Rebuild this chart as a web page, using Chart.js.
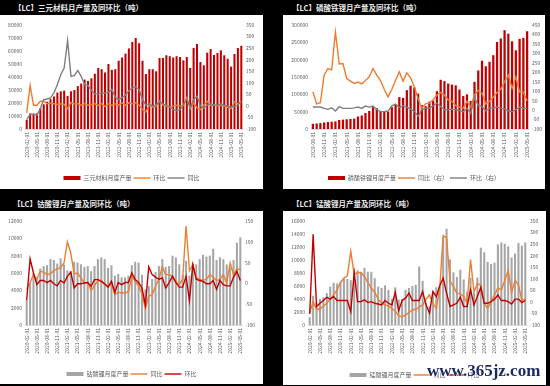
<!DOCTYPE html>
<html>
<head>
<meta charset="utf-8">
<script src="https://cdn.jsdelivr.net/npm/chart.js@4/dist/chart.umd.min.js"></script>
<style>
  html, body { margin: 0; padding: 0; background: #000; }
  body { width: 550px; height: 386px; position: relative; overflow: hidden; font-family: "Noto Sans CJK SC", sans-serif; }
  .title { position: absolute; color: #e8e8e8; font-size: 7.5px; font-weight: bold; line-height: 1; white-space: nowrap; }
  .box { position: absolute; background: #fff; overflow: hidden; }
  .box canvas { position: absolute; left: 0; top: 0; }
  .mark { position: absolute; left: 427px; top: 362px; font-family: "Liberation Serif", serif; font-weight: bold; font-size: 17px; line-height: 17px; color: #1b2a5e; text-shadow: 0 0 2px #fff, 0 0 2px #fff; white-space: nowrap; }
</style>
</head>
<body>
<div class="title" style="left:14px;top:4px">【LC】三元材料月产量及同环比（吨）</div>
<div class="title" style="left:292px;top:4px">【LC】磷酸铁锂月产量及同环比（吨）</div>
<div class="title" style="left:13px;top:200px">【LC】钴酸锂月产量及同环比（吨）</div>
<div class="title" style="left:292px;top:200px">【LC】锰酸锂月产量及同环比（吨）</div>

<div class="box" style="left:0px;top:15px;width:263px;height:174px"><canvas id="ncm"></canvas></div>
<div class="box" style="left:283px;top:15px;width:262px;height:174px"><canvas id="lfp"></canvas></div>
<div class="box" style="left:0px;top:211px;width:263px;height:173px"><canvas id="lco"></canvas></div>
<div class="box" style="left:283px;top:211px;width:263px;height:174px"><canvas id="lmo"></canvas></div>

<div class="mark">www.365jz.com</div>

<script>
// month labels, yyyy-mm-01
function monthsFrom(year, month, count) {
  const out = [];
  for (let i = 0; i < count; i++) {
    const d = new Date(Date.UTC(year, month - 1 + i, 1));
    out.push(d.toISOString().slice(0, 10));
  }
  return out;
}

const months64 = monthsFrom(2020, 2, 64); // 2020-02 .. 2025-05
const months58 = monthsFrom(2020, 8, 58); // 2020-08 .. 2025-05

// 三元材料
const ncmOutput = [7000, 12000, 12000, 12000, 16000, 19000, 21000, 23000, 25000, 28000,
  29000, 29500, 25500, 29000, 30000, 33000, 35000, 38000, 37000, 39000,
  42500, 47000, 46000, 43500, 50000, 45500, 46000, 52500, 55000, 58000,
  62000, 67000, 70000, 66000, 52500, 42300, 46000, 46000, 44400, 54600,
  54600, 56700, 56000, 55000, 56000, 55400, 52800, 55400, 47000, 62300,
  65400, 51500, 49000, 58700, 61500, 57000, 58500, 60500, 56700, 54000,
  48000, 57700, 62300, 64000];
const ncmMoM = [-30, 88, 3, 3, 20, 20, 9, 12, 9, 6, 9, 6, -12, 14, 9, 9, 3, 9, 3, 6,
  9, 3, 9, -3, 9, 3, 9, 3, 12, 3, 13, 9, 13, 3, -16, -26, 3, -6, -1, 20,
  3, -1, -6, -1, 3, -1, 3, 35, -12, 13, -9, -16, 3, 20, 3, 3, -1, 3, -1, -6,
  -12, 17, 9, 17];
const ncmYoY = [-59, -37, -37, -40, -12, 27, 30, 35, 56, 92, 135, 164, 282, 128, 132, 153, 128, 92, 89, 66,
  52, 52, 56, 56, 59, 71, 37, 27, 37, 46, 66, 78, 82, 71, 27, 3, 9, -1, 3, 20,
  9, 3, -6, -16, -20, -16, 3, 32, -9, 27, 42, -1, -9, 3, 9, 3, 3, 9, 3, -1,
  -6, -1, 3, 20];

// 磷酸铁锂
const lfpOutput = [15000, 16000, 17000, 19000, 20000, 21000, 22000, 26000, 27000, 28000,
  29000, 30000, 36000, 39000, 46000, 52000, 63000, 60000, 52000, 50000,
  50000, 63000, 72000, 92000, 90000, 112000, 125000, 120000, 102000, 69000,
  66000, 79000, 82000, 109000, 142000, 138000, 131000, 128000, 126000, 114000,
  95000, 100000, 81000, 136000, 169000, 197000, 181000, 194000, 213000, 251000,
  261000, 285000, 275000, 253000, 227000, 260000, 263000, 282000];
const lfpYoY = [97, 33, 39, 185, 220, 213, 413, 244, 246, 167, 153, 141, 148, 139, 156, 176, 220, 185, 156, 109,
  70, 109, 158, 202, 153, 197, 170, 123, 60, 10, 33, 37, 54, 80, 93, 80, 54, 46, 23, 16,
  10, 46, 16, 80, 104, 90, 33, 46, 69, 93, 110, 150, 185, 115, 175, 95, 95, 48];
const lfpMoM = [16, 16, 16, 9, 4, 12, -5, 18, 9, 9, 9, 12, 16, 9, 21, 16, 21, 2, -8, -8,
  -5, 23, 32, 14, 23, 16, 5, -7, -33, 2, 10, 10, 23, 37, 19, 2, 2, 5, 2, -2,
  -9, 10, -16, 67, 23, 19, -4, 10, 10, 16, 10, 5, -4, -9, 2, 16, 10, 10];

// 钴酸锂
const lcoOutput = [2900, 4900, 6000, 5400, 6500, 6800, 6900, 7600, 7500, 7100,
  7700, 7000, 6300, 6200, 7300, 7200, 7000, 6700, 6800, 6200,
  6800, 7600, 7800, 7600, 6600, 6900, 5700, 5900, 5500, 5500,
  5700, 6900, 7300, 7200, 5800, 4100, 4500, 5300, 6100, 6800,
  7600, 6700, 6800, 8000, 7800, 7000, 5800, 7400, 5700, 7100,
  7000, 7600, 8100, 7900, 8000, 8800, 7500, 7800, 7600, 7000,
  6600, 7500, 9500, 10100];
const lcoYoY = [-14, 2, 21, 10, 29, 27, 21, 23, 31, 35, 37, 49, 100, 73, 23, 25, 13, 1, 2, -17,
  -6, 7, 7, -3, -7, -1, -27, -21, -23, -23, -20, 17, 5, -6, -25, -60, -31, -27, -7, 10,
  40, 21, 21, 17, 5, -3, 10, 138, 31, 45, 13, 10, 7, 10, 21, 15, 7, 9, 21, 1,
  49, 21, 35, 33];
const lcoMoM = [-40, 59, 25, -3, 7, 7, 2, 7, -1, -6, 7, 1, 17, 27, -11, -1, -1, 1, 2, -7,
  9, 9, 5, -1, -9, 5, -22, 2, -3, 2, 2, 25, 9, 2, -11, -52, 40, 21, 15, 10,
  13, -11, 2, 17, 2, -9, -9, 17, -41, 45, 10, 7, 5, -1, -1, 7, -14, 7, -3, -6,
  -6, 15, 29, 7];

// 锰酸锂
const lmoOutput = [1200, 4500, 3400, 4000, 4300, 4900, 5900, 6500, 6400, 6600,
  7100, 7100, 6900, 8600, 8400, 8200, 8800, 8200, 8200, 7200,
  5900, 5700, 6100, 5400, 4000, 5800, 3900, 4000, 5400, 5700,
  6000, 6200, 9000, 6800, 3400, 2900, 5000, 5800, 6000, 13500,
  14800, 10100, 8100, 7400, 8500, 7000, 5100, 7300, 5000, 7300,
  11900, 11200, 9700, 9400, 9600, 12400, 12700, 12500, 12100, 10400,
  11000, 12600, 12200, 12700];
const lmoYoY = [-46, 1, -32, -32, -17, -6, 12, 30, 52, 84, 103, 113, 219, 118, 128, 125, 110, 84, 60, 41,
  12, -6, -13, -17, -28, -40, -61, -64, -57, -46, -35, -32, -23, -13, 12, 30, -6, -28, 60, 287,
  277, 89, 67, 38, 35, 23, -6, 183, 45, 78, 74, -6, -28, 1, 30, 60, 52, 93, 136, 41,
  93, 74, 6, 12];
const lmoMoM = [-52, 292, -20, -6, 6, 20, 12, 23, 6, 6, 6, 6, -42, 125, 1, 1, 9, -3, 1, -6,
  -9, -13, 6, -6, -13, 41, -38, 6, 16, 38, 6, 6, 6, 45, -13, -49, 45, 23, 70, 103,
  38, -20, -13, -6, 20, -20, -20, 52, -13, 23, 62, -6, -6, 1, 12, 30, 6, 6, 1, -9,
  12, 12, -3, 6];

const RED = "#C00000";
const ORANGE = "#ED7D31";
const GRAY = "#7F7F7F";
const BAR_GRAY = "#A5A5A5";
const TEXT = "#595959";

Chart.defaults.font.family = '"Noto Sans CJK SC", sans-serif';

function makeChart(id, cfg) {
  const canvas = document.getElementById(id);
  const height = cfg.legendY + 13;
  canvas.width = cfg.width;
  canvas.height = height;
  const pad = 2;
  const xHeight = height - 16 - pad - cfg.area.bottom;
  const tickFont = { size: 5 };

  const datasets = [
    {
      type: "bar",
      label: cfg.barLabel,
      data: cfg.bars,
      backgroundColor: cfg.barColor,
      barPercentage: 0.6,
      categoryPercentage: 1,
      yAxisID: "y",
      pointStyle: "rect",
      order: 3,
    },
  ];
  cfg.lines.forEach((line, i) => {
    datasets.push({
      type: "line",
      label: line.label,
      data: line.data,
      borderColor: line.color,
      backgroundColor: line.color,
      borderWidth: 1.4,
      pointRadius: 0,
      tension: 0,
      fill: false,
      yAxisID: "y1",
      pointStyle: "line",
      order: 2 - i,
    });
  });

  return new Chart(canvas, {
    data: { labels: cfg.labels, datasets },
    options: {
      responsive: false,
      animation: false,
      devicePixelRatio: 1,
      layout: { padding: { top: cfg.area.top, left: 0, right: 0, bottom: 0 } },
      plugins: {
        legend: {
          position: "bottom",
          labels: {
            usePointStyle: true,
            pointStyleWidth: 17,
            boxHeight: 4,
            padding: pad,
            color: TEXT,
            font: { size: 6 },
            sort: (a, b) => a.datasetIndex - b.datasetIndex,
          },
        },
        tooltip: { enabled: false },
      },
      scales: {
        x: {
          offset: true,
          grid: { display: false, drawTicks: false },
          border: { display: true, color: "#D9D9D9" },
          ticks: {
            autoSkip: false,
            minRotation: 90,
            maxRotation: 90,
            padding: 3,
            color: TEXT,
            font: tickFont,
            callback: (value, index) => (index % 3 === 0 ? cfg.labels[index] : ""),
          },
          afterFit: (scale) => {
            scale.height = xHeight;
          },
        },
        y: {
          position: "left",
          min: 0,
          max: cfg.leftMax,
          grid: { display: false, drawTicks: false },
          border: { display: false },
          ticks: {
            stepSize: cfg.leftStep,
            padding: 3,
            color: TEXT,
            font: tickFont,
            callback: (value) => String(value),
          },
          afterFit: (scale) => {
            scale.width = cfg.area.left;
          },
        },
        y1: {
          position: "right",
          min: cfg.rightMin,
          max: cfg.rightMax,
          grid: { display: false, drawTicks: false },
          border: { display: false },
          ticks: {
            stepSize: 50,
            padding: 3,
            color: TEXT,
            font: tickFont,
            callback: (value) => String(value),
          },
          afterFit: (scale) => {
            scale.width = cfg.width - cfg.area.right;
          },
        },
      },
    },
  });
}

makeChart("ncm", {
  width: 263,
  legendY: 163,
  area: { left: 25, right: 243, top: 10, bottom: 114 },
  labels: months64,
  bars: ncmOutput,
  barLabel: "三元材料月度产量",
  barColor: RED,
  lines: [
    { label: "环比", data: ncmMoM, color: ORANGE },
    { label: "同比", data: ncmYoY, color: GRAY },
  ],
  leftMax: 80000,
  leftStep: 10000,
  rightMin: -100,
  rightMax: 350,
});

makeChart("lfp", {
  width: 262,
  legendY: 163,
  area: { left: 28, right: 246, top: 10, bottom: 114 },
  labels: months58,
  bars: lfpOutput,
  barLabel: "磷酸铁锂月度产量",
  barColor: RED,
  lines: [
    { label: "同比（右）", data: lfpYoY, color: ORANGE },
    { label: "环比（右）", data: lfpMoM, color: GRAY },
  ],
  leftMax: 300000,
  leftStep: 50000,
  rightMin: -100,
  rightMax: 450,
});

makeChart("lco", {
  width: 263,
  legendY: 163,
  area: { left: 25, right: 242, top: 10, bottom: 114 },
  labels: months64,
  bars: lcoOutput,
  barLabel: "钴酸锂月度产量",
  barColor: BAR_GRAY,
  lines: [
    { label: "同比", data: lcoYoY, color: ORANGE },
    { label: "环比", data: lcoMoM, color: RED },
  ],
  leftMax: 12000,
  leftStep: 2000,
  rightMin: -100,
  rightMax: 150,
});

makeChart("lmo", {
  width: 263,
  legendY: 164,
  area: { left: 25, right: 244, top: 10, bottom: 114 },
  labels: months64,
  bars: lmoOutput,
  barLabel: "锰酸锂月度产量",
  barColor: BAR_GRAY,
  lines: [
    { label: "同比", data: lmoYoY, color: ORANGE },
    { label: "环比", data: lmoMoM, color: RED },
  ],
  leftMax: 16000,
  leftStep: 2000,
  rightMin: -100,
  rightMax: 350,
});
</script>
</body>
</html>
